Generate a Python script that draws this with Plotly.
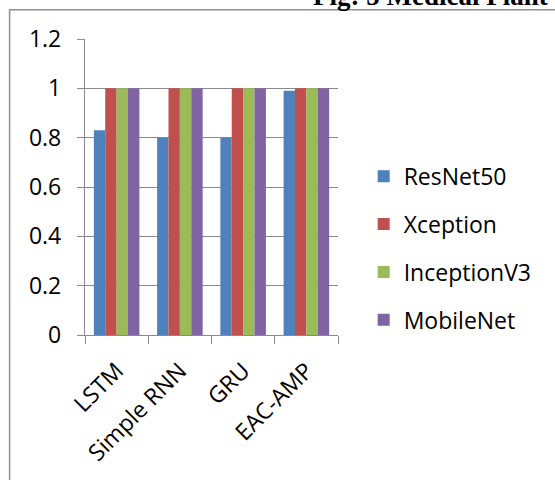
import plotly.graph_objects as go

# Accuracy of each classifier backbone for the four sequence models
models = ["LSTM", "Simple RNN", "GRU", "EAC-AMP"]
resnet50 = [0.83, 0.80, 0.80, 0.99]
xception = [1.0, 1.0, 1.0, 1.0]
inception_v3 = [1.0, 1.0, 1.0, 1.0]
mobilenet = [1.0, 1.0, 1.0, 1.0]

series_names = ["ResNet50", "Xception", "InceptionV3", "MobileNet"]
series_values = [resnet50, xception, inception_v3, mobilenet]
series_colors = ["#4F81BD", "#C0504D", "#9BBB59", "#8064A2"]

y_ticks = [0, 0.2, 0.4, 0.6, 0.8, 1.0, 1.2]
y_tick_text = ["0", "0.2", "0.4", "0.6", "0.8", "1", "1.2"]

W, H = 555, 480
L, R, T, B = 85, 338.3, 39.3, 335.3  # plot-area edges in pixels


def px(x):
    return (x - L) / (R - L)


def py(y):
    return (B - y) / (B - T)


FONT = "Open Sans"
FS = 23
GRID = "#8a8a8a"

fig = go.Figure()
for i, (name, vals, col) in enumerate(zip(series_names, series_values, series_colors)):
    fig.add_trace(go.Bar(
        x=models, y=vals, name=name, legendgroup=name,
        marker=dict(color=col, line=dict(width=0)),
    ))

fig.update_layout(
    width=W, height=H,
    margin=dict(l=L, r=W - R, t=T, b=H - B, pad=0),
    paper_bgcolor="white", plot_bgcolor="white",
    barmode="group", bargap=0.28, bargroupgap=0,
    font=dict(family=FONT, size=FS, color="#000000"),
    showlegend=True,
    legend=dict(
        x=px(364), y=py(155), xanchor="left", yanchor="top",
        font=dict(family=FONT, size=FS, color="#000000"),
        tracegroupgap=15, traceorder="grouped",
        bgcolor="rgba(0,0,0,0)", borderwidth=0,
    ),
    xaxis=dict(
        type="category", showgrid=False, showline=True, linecolor=GRID, linewidth=1.3,
        ticks="outside", ticklen=8, tickcolor=GRID, tickwidth=1.3,
        tickson="boundaries", tickangle=-45, ticklabelstandoff=12,
        tickfont=dict(family=FONT, size=FS, color="#000000"),
    ),
    yaxis=dict(
        range=[0, 1.2], tickvals=y_ticks, ticktext=y_tick_text,
        showgrid=True, gridcolor=GRID, gridwidth=1.3,
        showline=True, linecolor=GRID, linewidth=1.3,
        ticks="outside", ticklen=7, tickcolor=GRID, tickwidth=1.3,
        ticklabelstandoff=11, zeroline=False,
        tickfont=dict(family=FONT, size=FS, color="#000000"),
    ),
    shapes=[
        dict(type="rect", xref="paper", yref="paper",
             x0=px(9.5), x1=px(700), y0=py(10), y1=py(700),
             line=dict(color="#8f8f8f", width=1.5), fillcolor="rgba(0,0,0,0)", layer="below"),
    ],
    annotations=[
        dict(text="<b>Fig: 5 Medical Plant Identification</b>", xref="paper", yref="paper",
             x=px(311), y=py(13), xanchor="left", yanchor="bottom", showarrow=False,
             font=dict(family="Liberation Serif", size=27, color="#000000")),
    ],
)

fig.write_html("out.html")
